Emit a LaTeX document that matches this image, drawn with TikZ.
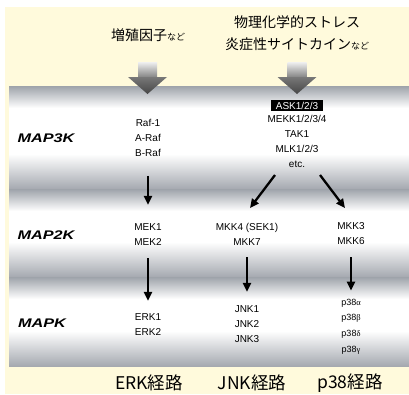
\documentclass[tikz,border=0pt]{standalone}
\usepackage{fontspec}
\usepackage{graphicx}
\setmainfont{Liberation Sans}
\newfontfamily\jp{Noto Sans CJK JP}
\newfontfamily\grk{Liberation Serif}
\usetikzlibrary{arrows.meta}
\definecolor{cream}{RGB}{255,250,220}
\definecolor{bandT}{RGB}{158,163,170}
\definecolor{bandB}{RGB}{165,169,176}
\definecolor{bigdark}{RGB}{70,70,70}
\definecolor{bigmid}{RGB}{120,120,120}
\tikzset{
  lbl/.style={font=\fontsize{10}{15}\selectfont, align=center, inner sep=0pt},
  grp/.style={font=\fontsize{12.5}{14}\selectfont\bfseries\itshape, inner sep=0pt},
  pathlbl/.style={font=\jp\fontsize{17.5}{20}\selectfont, inner sep=0pt}
}
\newcommand{\gk}[1]{{\grk\fontsize{8.5}{10}\selectfont #1}}
\newcommand{\nado}{{\fontsize{9}{10}\selectfont など}}
\begin{document}
\begin{tikzpicture}[x=1pt,y=-1pt]
\useasboundingbox (0,0) rectangle (409,394);
\fill[white] (0,0) rectangle (409,394);
\fill[cream] (5,7) rectangle (409,394);
% bands
\foreach \t/\b in {86/189, 189/277, 277/366}{
  \fill[top color=bandT, bottom color=white] (9,\t) rectangle (409,\t+22);
  \fill[white] (9,\t+21.5) rectangle (409,\b-34.5);
  \fill[top color=white, bottom color=bandB] (9,\b-35) rectangle (409,\b);
}
% source texts
\node[inner sep=0pt, font=\jp\fontsize{14}{16}\selectfont] (gf) at (148,35) {増殖因子\nado};
\node[inner sep=0pt, align=center, font=\jp\fontsize{14}{22}\selectfont] (st) at (297,33) {物理化学的ストレス\\炎症性サイトカイン\nado};
% big arrows
\foreach \cx in {147.5, 297}{
  \shade[top color=white!94!black, bottom color=bigmid] (\cx-9.5,62) rectangle (\cx+9.5,79);
  \shade[top color=bigmid, bottom color=bigdark] (\cx-19.5,77) -- (\cx+19.5,77) -- (\cx,94) -- cycle;
}
% row labels
\node[grp] (r1) at (46,138) {\scalebox{1.3}[1]{MAP3K}};
\node[grp] (r2) at (46,235) {\scalebox{1.3}[1]{MAP2K}};
\node[grp] (r3) at (42,323) {\scalebox{1.3}[1]{MAPK}};
% MAP3K
\node[lbl] (raf) at (148,138) {Raf-1\\A-Raf\\B-Raf};
\node[lbl, fill=black, text=white, minimum width=52pt, minimum height=11pt] (ask) at (297,105.5) {ASK1/2/3};
\node[lbl] (mekk) at (297,141.5) {MEKK1/2/3/4\\TAK1\\MLK1/2/3\\etc.};
% MAP2K
\node[lbl] (mek) at (148,235) {MEK1\\MEK2};
\node[lbl] (mkk4) at (247,234) {MKK4 (SEK1)\\MKK7};
\node[lbl] (mkk3) at (351,234) {MKK3\\MKK6};
% MAPK
\node[lbl] (erk) at (148,325) {ERK1\\ERK2};
\node[lbl] (jnk) at (247,324.5) {JNK1\\JNK2\\JNK3};
\node[lbl, font=\fontsize{9}{15.7}\selectfont] (p38) at (351,326.5) {p38\gk{α}\\p38\gk{β}\\p38\gk{δ}\\p38\gk{γ}};
% connectors
\coordinate (dl1) at (275,175);
\coordinate (dl2) at (250,208);
\coordinate (dr1) at (320,175);
\coordinate (dr2) at (345,208);
\draw[line width=2.3pt, -{Triangle[width=8pt,length=9pt]}, shorten <=19pt, shorten >=19pt] (raf.south) -- (mek.north);
\draw[line width=2.3pt, -{Triangle[width=8pt,length=9pt]}] (dl1) -- (dl2);
\draw[line width=2.3pt, -{Triangle[width=8pt,length=9pt]}] (dr1) -- (dr2);
\draw[line width=2.3pt, -{Triangle[width=8pt,length=9pt]}, shorten <=12pt, shorten >=13pt] (mek.south) -- (erk.north);
\draw[line width=2.3pt, -{Triangle[width=8pt,length=9pt]}, shorten <=12pt, shorten >=14pt] (mkk4.south) -- (mkk4.south |- jnk.north);
\draw[line width=2.3pt, -{Triangle[width=8pt,length=9pt]}, shorten <=12pt, shorten >=8pt] (mkk3.south) -- (p38.north);
% pathway labels
\node[pathlbl] (erkp) at (149,383) {ERK経路};
\node[pathlbl] (jnkp) at (252,383) {JNK経路};
\node[pathlbl] (p38p) at (350,383) {p38経路};
\end{tikzpicture}
\end{document}
